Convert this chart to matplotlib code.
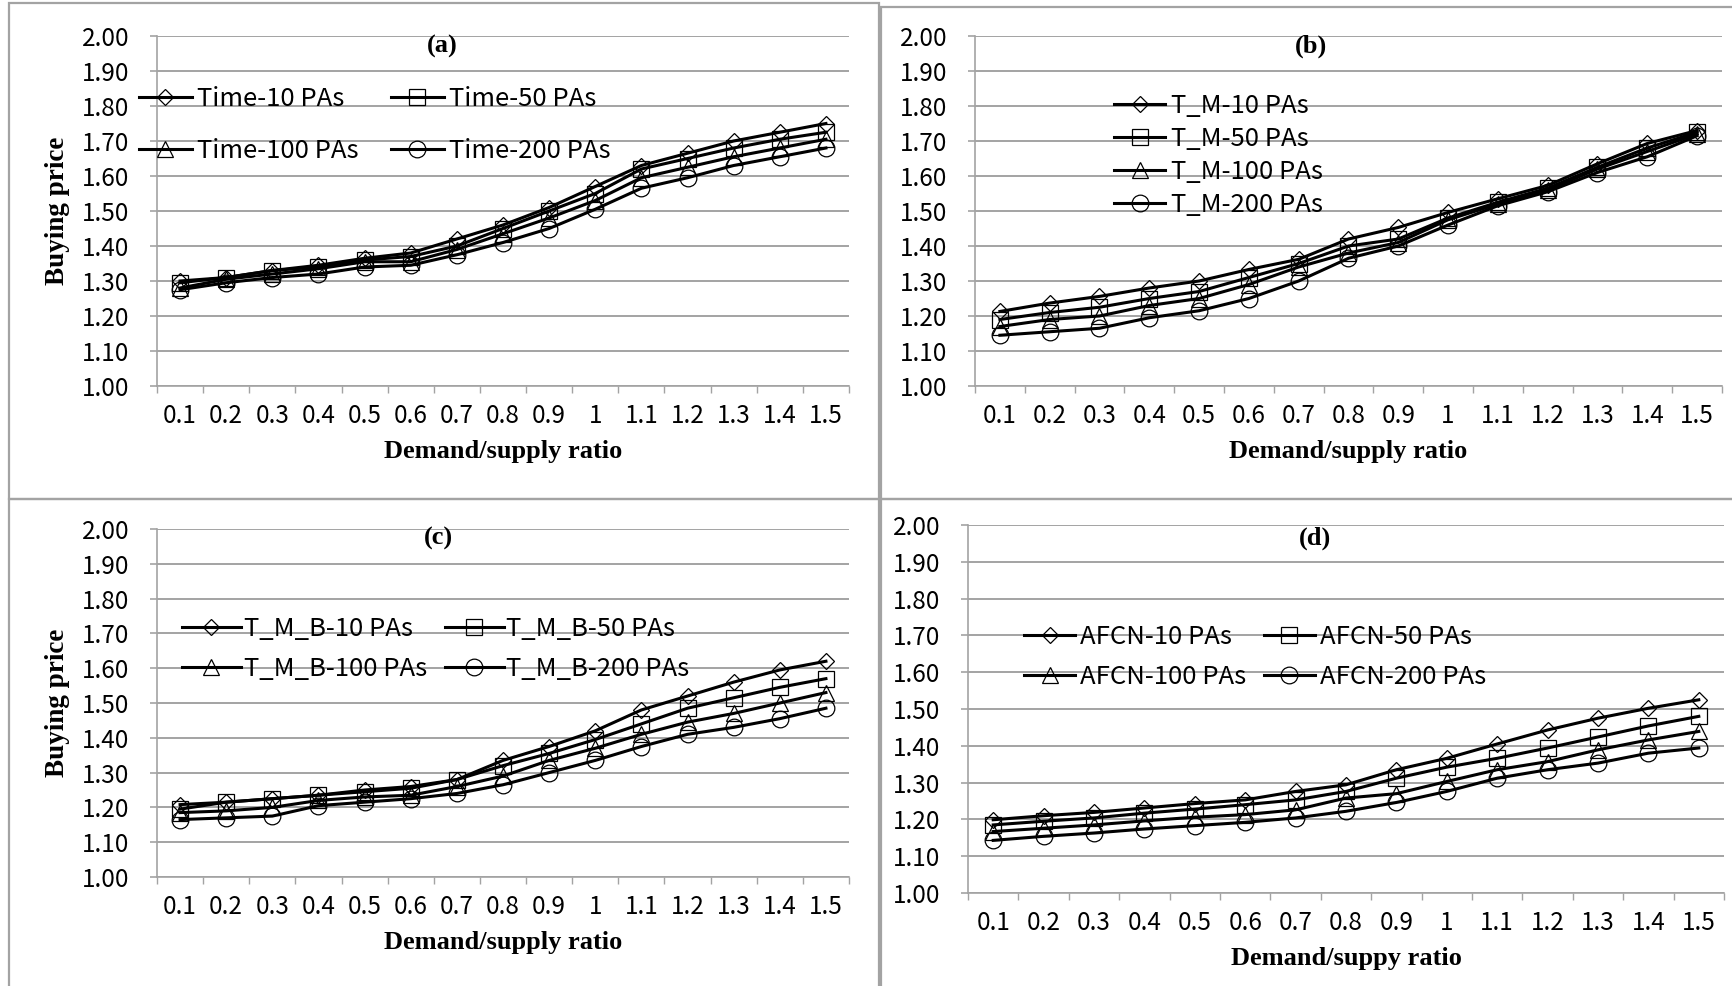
import numpy as np
import matplotlib
matplotlib.use('Agg')
import matplotlib.pyplot as plt
from matplotlib.ticker import FormatStrFormatter

plt.rcParams['font.family'] = ['Noto Sans CJK SC', 'DejaVu Sans']
SERIF = ['Liberation Serif', 'DejaVu Serif']

# ---------------- data ----------------
ratio_labels = ['0.1', '0.2', '0.3', '0.4', '0.5', '0.6', '0.7', '0.8',
                '0.9', '1', '1.1', '1.2', '1.3', '1.4', '1.5']
pa_counts = [10, 50, 100, 200]

# (a) Time
time_10 = [1.300, 1.310, 1.330, 1.345, 1.365, 1.380, 1.420, 1.460, 1.510, 1.570, 1.630, 1.665, 1.700, 1.725, 1.750]
time_50 = [1.295, 1.310, 1.330, 1.340, 1.360, 1.370, 1.400, 1.450, 1.500, 1.550, 1.620, 1.650, 1.680, 1.705, 1.725]
time_100 = [1.280, 1.305, 1.320, 1.335, 1.355, 1.355, 1.390, 1.435, 1.480, 1.530, 1.595, 1.625, 1.655, 1.680, 1.705]
time_200 = [1.275, 1.295, 1.310, 1.320, 1.340, 1.345, 1.375, 1.410, 1.450, 1.505, 1.565, 1.595, 1.630, 1.655, 1.680]

# (b) T_M
tm_10 = [1.213, 1.237, 1.256, 1.280, 1.300, 1.333, 1.362, 1.420, 1.453, 1.496, 1.535, 1.573, 1.635, 1.693, 1.730]
tm_50 = [1.190, 1.210, 1.225, 1.250, 1.270, 1.310, 1.350, 1.400, 1.420, 1.480, 1.525, 1.565, 1.625, 1.680, 1.725]
tm_100 = [1.170, 1.190, 1.200, 1.230, 1.250, 1.290, 1.340, 1.380, 1.410, 1.475, 1.520, 1.560, 1.620, 1.670, 1.720]
tm_200 = [1.145, 1.155, 1.165, 1.195, 1.215, 1.250, 1.300, 1.365, 1.400, 1.460, 1.515, 1.555, 1.610, 1.655, 1.715]

# (c) T_M_B
tmb_10 = [1.208, 1.215, 1.225, 1.235, 1.250, 1.260, 1.280, 1.335, 1.375, 1.420, 1.480, 1.520, 1.560, 1.595, 1.620]
tmb_50 = [1.195, 1.215, 1.225, 1.235, 1.245, 1.255, 1.280, 1.320, 1.355, 1.395, 1.440, 1.485, 1.515, 1.545, 1.570]
tmb_100 = [1.185, 1.190, 1.200, 1.220, 1.230, 1.235, 1.260, 1.290, 1.335, 1.370, 1.410, 1.445, 1.470, 1.500, 1.530]
tmb_200 = [1.165, 1.170, 1.175, 1.205, 1.215, 1.225, 1.240, 1.265, 1.300, 1.335, 1.375, 1.410, 1.430, 1.455, 1.485]

# (d) AFCN
afcn_10 = [1.199, 1.210, 1.219, 1.231, 1.243, 1.253, 1.276, 1.294, 1.335, 1.366, 1.405, 1.443, 1.475, 1.502, 1.525]
afcn_50 = [1.185, 1.195, 1.204, 1.217, 1.228, 1.240, 1.253, 1.276, 1.312, 1.342, 1.366, 1.394, 1.424, 1.454, 1.480]
afcn_100 = [1.167, 1.176, 1.185, 1.196, 1.206, 1.213, 1.226, 1.258, 1.270, 1.303, 1.335, 1.357, 1.389, 1.416, 1.439]
afcn_200 = [1.143, 1.154, 1.163, 1.174, 1.183, 1.192, 1.204, 1.222, 1.246, 1.276, 1.312, 1.335, 1.353, 1.380, 1.394]

GREY = '#a3a3a3'
W, H = 1733, 986
markers = ['D', 's', '^', 'o']
msizes = [8, 12, 12, 12]


def draw_panel(ax, series, prefix, tag, tag_xy, xlabel, xlabel_y, ylabel,
               ncol, leg_xy, leg_kw):
    x = np.arange(len(ratio_labels))
    handles = []
    for vals, n, mk, ms in zip(series, pa_counts, markers, msizes):
        h, = ax.plot(x, vals, color='black', lw=2.2, marker=mk, ms=ms,
                     mfc='none', mec='black', mew=0.9,
                     label=f'{prefix}-{n} PAs', zorder=3)
        handles.append(h)

    ax.set_xlim(-0.5, len(x) - 0.5)
    ax.set_ylim(1.0, 2.0)
    ax.set_yticks(np.arange(1.0, 2.001, 0.1))
    ax.yaxis.set_major_formatter(FormatStrFormatter('%.2f'))
    # category boundaries carry the tick marks, centres carry the labels
    ax.set_xticks(np.arange(-0.5, len(x)), labels=[])
    ax.set_xticks(x, labels=ratio_labels, minor=True)
    ax.tick_params(axis='x', which='minor', length=0, pad=12.5, labelsize=17.5)
    ax.tick_params(axis='x', which='major', length=5, width=1, color=GREY)
    ax.tick_params(axis='y', length=5, width=1.2, color=GREY, pad=15,
                   labelsize=17.5)
    ax.grid(axis='y', color=GREY, lw=1.4)
    ax.set_axisbelow(True)
    for s in ['top', 'right']:
        ax.spines[s].set_visible(False)
    for s in ['left', 'bottom']:
        ax.spines[s].set_color(GREY)
        ax.spines[s].set_linewidth(1.2)

    ax.text(tag_xy[0], tag_xy[1], tag, transform=ax.transAxes, ha='center',
            va='center', fontsize=19, fontweight='bold', family=SERIF)
    ax.set_xlabel(xlabel, fontsize=19, fontweight='bold', family=SERIF)
    ax.xaxis.set_label_coords(0.5, xlabel_y)
    if ylabel:
        ax.set_ylabel(ylabel, fontsize=19.5, fontweight='bold', family=SERIF)
        ax.yaxis.set_label_coords(-0.125, 0.5)

    if ncol == 2:
        order = [0, 2, 1, 3]
    else:
        order = [0, 1, 2, 3]
    ax.legend([handles[i] for i in order],
              [handles[i].get_label() for i in order],
              ncol=ncol, loc='upper left', bbox_to_anchor=leg_xy,
              frameon=False, borderpad=0, borderaxespad=0, fontsize=18.5,
              **leg_kw)


fig = plt.figure(figsize=(W / 100, H / 100), dpi=100)

# panel frames
frames = [(9, 3, 879, 499), (881, 7, 1740, 499),
          (9, 499, 879, 995), (881, 499, 1740, 995)]
for x0, y0, x1, y1 in frames:
    fig.add_artist(plt.Rectangle((x0 / W, 1 - y1 / H), (x1 - x0) / W,
                                 (y1 - y0) / H, transform=fig.transFigure,
                                 fill=False, ec=GREY, lw=1.6))

ax_a = fig.add_axes([157 / W, 1 - 386 / H, 692 / W, 350 / H])
ax_b = fig.add_axes([975 / W, 1 - 386 / H, 747 / W, 350 / H])
ax_c = fig.add_axes([157 / W, 1 - 877 / H, 692 / W, 348 / H])
ax_d = fig.add_axes([968 / W, 1 - 893 / H, 756 / W, 368 / H])

draw_panel(ax_a, [time_10, time_50, time_100, time_200], 'Time', '(a)',
           (0.412, 0.971), 'Demand/supply ratio', -0.155, 'Buying price',
           2, (-0.026, 0.856),
           dict(handlelength=2.06, handletextpad=0.2, columnspacing=1.25,
                labelspacing=1.0))
draw_panel(ax_b, [tm_10, tm_50, tm_100, tm_200], 'T_M', '(b)',
           (0.45, 0.971), 'Demand/supply ratio', -0.155, None,
           1, (0.186, 0.836),
           dict(handlelength=2.0, handletextpad=0.23, labelspacing=0.27))
draw_panel(ax_c, [tmb_10, tmb_50, tmb_100, tmb_200], 'T_M_B', '(c)',
           (0.407, 0.974), 'Demand/supply ratio', -0.155, 'Buying price',
           2, (0.036, 0.751),
           dict(handlelength=2.3, handletextpad=0.1, columnspacing=0.7,
                labelspacing=0.55))
draw_panel(ax_d, [afcn_10, afcn_50, afcn_100, afcn_200], 'AFCN', '(d)',
           (0.459, 0.965), 'Demand/suppy ratio', -0.148, None,
           2, (0.074, 0.730),
           dict(handlelength=2.0, handletextpad=0.2, columnspacing=0.66,
                labelspacing=0.55))

fig.savefig('out.png', dpi=100)
